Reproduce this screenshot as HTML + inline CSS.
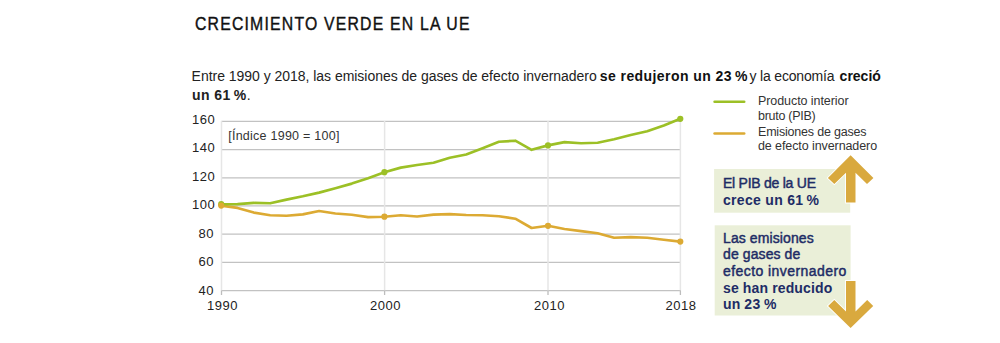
<!DOCTYPE html>
<html><head><meta charset="utf-8"><style>
html,body{margin:0;padding:0;background:#fff;width:1000px;height:343px;overflow:hidden;position:relative;font-family:"Liberation Sans",sans-serif;}
.t{position:absolute;white-space:nowrap;line-height:1.15;}
b{font-weight:bold;}
</style></head><body>
<svg width="1000" height="343" style="position:absolute;left:0;top:0">
<line x1="221.4" y1="121.40" x2="680.8" y2="121.40" stroke="#c2c2c2" stroke-width="1.3"/><line x1="221.4" y1="149.59" x2="680.8" y2="149.59" stroke="#c2c2c2" stroke-width="1.3"/><line x1="221.4" y1="177.78" x2="680.8" y2="177.78" stroke="#c2c2c2" stroke-width="1.3"/><line x1="221.4" y1="205.97" x2="680.8" y2="205.97" stroke="#c2c2c2" stroke-width="1.3"/><line x1="221.4" y1="234.16" x2="680.8" y2="234.16" stroke="#c2c2c2" stroke-width="1.3"/><line x1="221.4" y1="262.35" x2="680.8" y2="262.35" stroke="#c2c2c2" stroke-width="1.3"/><line x1="221.4" y1="290.54" x2="680.8" y2="290.54" stroke="#c2c2c2" stroke-width="1.3"/><line x1="221.5" y1="121" x2="221.5" y2="290.5" stroke="#e6e6e6" stroke-width="1.5"/><line x1="221.5" y1="290.5" x2="221.5" y2="295" stroke="#bdbdbd" stroke-width="1.3"/><line x1="384.6" y1="121" x2="384.6" y2="290.5" stroke="#e6e6e6" stroke-width="1.5"/><line x1="384.6" y1="290.5" x2="384.6" y2="295" stroke="#bdbdbd" stroke-width="1.3"/><line x1="548" y1="121" x2="548" y2="290.5" stroke="#e6e6e6" stroke-width="1.5"/><line x1="548" y1="290.5" x2="548" y2="295" stroke="#bdbdbd" stroke-width="1.3"/><line x1="680.4" y1="121" x2="680.4" y2="290.5" stroke="#e6e6e6" stroke-width="1.5"/><line x1="680.4" y1="290.5" x2="680.4" y2="295" stroke="#bdbdbd" stroke-width="1.3"/>
<path d="M221.2,205.6 L237.5,207.9 L253.8,212.6 L270.2,215.3 L286.5,215.7 L302.8,214.4 L319.1,211.0 L335.4,213.5 L351.8,214.7 L368.1,217.1 L384.4,216.7 L400.8,215.3 L417.1,216.5 L433.5,214.6 L449.8,214.1 L466.2,215.0 L482.6,215.3 L498.9,216.3 L515.3,218.7 L531.6,228.0 L548.0,225.8 L564.5,229.0 L581.1,231.1 L597.6,233.3 L614.1,237.7 L630.7,237.1 L647.2,237.7 L663.8,239.8 L680.3,241.6" fill="none" stroke="#dcaa33" stroke-width="2.65" stroke-linejoin="round" stroke-linecap="round"/>
<path d="M221.2,204.2 L237.5,204.1 L253.8,202.9 L270.2,203.3 L286.5,199.6 L302.8,196.3 L319.1,192.6 L335.4,188.2 L351.8,183.6 L368.1,178.3 L384.4,172.2 L400.8,167.6 L417.1,165.0 L433.5,162.8 L449.8,157.7 L466.2,154.5 L482.6,148.3 L498.9,141.8 L515.3,140.7 L531.6,149.8 L548.0,145.4 L564.5,142.1 L581.1,143.2 L597.6,142.8 L614.1,139.3 L630.7,135.0 L647.2,131.2 L663.8,125.4 L680.3,118.8" fill="none" stroke="#9cc026" stroke-width="2.65" stroke-linejoin="round" stroke-linecap="round"/>
<circle cx="221.2" cy="204.2" r="3.1" fill="#9cc026"/><circle cx="384.4" cy="172.2" r="3.1" fill="#9cc026"/><circle cx="548.0" cy="145.4" r="3.1" fill="#9cc026"/><circle cx="680.3" cy="118.8" r="3.1" fill="#9cc026"/><circle cx="221.2" cy="205.6" r="3.1" fill="#dcaa33"/><circle cx="384.4" cy="216.7" r="3.1" fill="#dcaa33"/><circle cx="548.0" cy="225.8" r="3.1" fill="#dcaa33"/><circle cx="680.3" cy="241.6" r="3.1" fill="#dcaa33"/>
<line x1="714.6" y1="101.8" x2="744.2" y2="101.8" stroke="#9cc026" stroke-width="2.6" stroke-linecap="round"/>
<line x1="714.6" y1="133.5" x2="744.2" y2="133.5" stroke="#dcaa33" stroke-width="2.6" stroke-linecap="round"/>
<rect x="714.1" y="169.0" width="136.1" height="43.7" fill="#eaefd8"/>
<rect x="714.7" y="225.3" width="135.9" height="90.2" fill="#eaefd8"/>
<path d="M850.6,155.2 L873.4,178 L867,183.9 L855.5,172.7 L855.5,202.6 L846,202.6 L846,172.7 L834.3,184 L827.9,178 Z" fill="#d9a93e" stroke="#fff" stroke-width="1.8" paint-order="stroke" stroke-linejoin="miter"/>
<path d="M850.6,328.1 L873.2,306.1 L867.2,300.1 L855.5,311.4 L855.5,280.9 L846,280.9 L846,311.4 L834.3,300.1 L828.1,306.1 Z" fill="#d9a93e" stroke="#fff" stroke-width="1.8" paint-order="stroke" stroke-linejoin="miter"/>
</svg>
<div class="t" id="title" style="left:195px;top:12.6px;font-size:18.6px;color:#111;-webkit-text-stroke:0.4px #111;letter-spacing:1.4px;transform:scaleX(0.85);transform-origin:0 0;">CRECIMIENTO VERDE EN LA UE</div>
<div class="t" id="s1a" style="left:191.6px;top:68px;font-size:14px;color:#222;letter-spacing:-0.03px;">Entre 1990 y 2018, las emisiones de gases de efecto invernadero</div>
<div class="t" id="s1b" style="left:599.8px;top:68px;font-size:14px;color:#111;font-weight:bold;letter-spacing:0.42px;">se redujeron un 23&#8239;%</div>
<div class="t" id="s1c" style="left:749.6px;top:68px;font-size:14px;color:#222;letter-spacing:-0.19px;">y la economía</div>
<div class="t" id="s1d" style="left:839.6px;top:68px;font-size:14px;color:#111;font-weight:bold;letter-spacing:0px;">creció</div>
<div class="t" id="sub2" style="left:192px;top:87px;font-size:14px;color:#222;letter-spacing:0.4px;"><b>un 61&#8239;%</b>.</div>
<div class="t" id="y160" style="left:192px;top:113px;font-size:13px;color:#222;letter-spacing:0.5px;">160</div>
<div class="t" id="y140" style="left:192px;top:141px;font-size:13px;color:#222;letter-spacing:0.5px;">140</div>
<div class="t" id="y120" style="left:192px;top:170px;font-size:13px;color:#222;letter-spacing:0.5px;">120</div>
<div class="t" id="y100" style="left:192px;top:198px;font-size:13px;color:#222;letter-spacing:0.5px;">100</div>
<div class="t" id="y80" style="left:198.5px;top:227px;font-size:13px;color:#222;letter-spacing:0.5px;">80</div>
<div class="t" id="y60" style="left:198.5px;top:255px;font-size:13px;color:#222;letter-spacing:0.5px;">60</div>
<div class="t" id="y40" style="left:198.5px;top:284px;font-size:13px;color:#222;letter-spacing:0.5px;">40</div>
<div class="t" id="x1990" style="left:207px;top:299px;font-size:13px;color:#222;letter-spacing:0.5px;">1990</div>
<div class="t" id="x2000" style="left:370px;top:299px;font-size:13px;color:#222;letter-spacing:0.5px;">2000</div>
<div class="t" id="x2010" style="left:534px;top:299px;font-size:13px;color:#222;letter-spacing:0.5px;">2010</div>
<div class="t" id="x2018" style="left:665.5px;top:299px;font-size:13px;color:#222;letter-spacing:0.5px;">2018</div>
<div class="t" id="idx" style="left:228.2px;top:128.6px;font-size:12.5px;color:#333;letter-spacing:0.25px;">[Índice 1990 = 100]</div>
<div class="t" id="lg1" style="left:758px;top:94px;font-size:12.5px;color:#333;letter-spacing:-0.07px;">Producto interior</div>
<div class="t" id="lg2" style="left:758px;top:109px;font-size:12.5px;color:#333;letter-spacing:-0.28px;">bruto (PIB)</div>
<div class="t" id="lg3" style="left:758px;top:125px;font-size:12.5px;color:#333;letter-spacing:-0.2px;">Emisiones de gases</div>
<div class="t" id="lg4" style="left:758px;top:139px;font-size:12.5px;color:#333;letter-spacing:-0.09px;">de efecto invernadero</div>
<div class="t" id="b1" style="left:723px;top:174.5px;font-size:14px;color:#1e2c66;-webkit-text-stroke:0.45px #1e2c66;letter-spacing:0.1px;letter-spacing:-0.25px;">El PIB de la UE</div>
<div class="t" id="b2" style="left:723px;top:192px;font-size:14px;color:#1e2c66;font-weight:bold;letter-spacing:0.3px;">crece un 61&#8239;%</div>
<div class="t" id="b3" style="left:723px;top:230px;font-size:14px;color:#1e2c66;-webkit-text-stroke:0.45px #1e2c66;letter-spacing:0.1px;">Las emisiones</div>
<div class="t" id="b4" style="left:723px;top:246px;font-size:14px;color:#1e2c66;-webkit-text-stroke:0.45px #1e2c66;letter-spacing:0.1px;">de gases de</div>
<div class="t" id="b5" style="left:723px;top:263px;font-size:14px;color:#1e2c66;-webkit-text-stroke:0.45px #1e2c66;letter-spacing:0.1px;letter-spacing:0.43px;">efecto invernadero</div>
<div class="t" id="b6" style="left:723px;top:279.5px;font-size:14px;color:#1e2c66;font-weight:bold;letter-spacing:0.3px;letter-spacing:0.13px;">se han reducido</div>
<div class="t" id="b7" style="left:723px;top:296px;font-size:14px;color:#1e2c66;font-weight:bold;letter-spacing:0.3px;letter-spacing:0.3px;word-spacing:-0.6px;">un 23 %</div>
</body></html>
